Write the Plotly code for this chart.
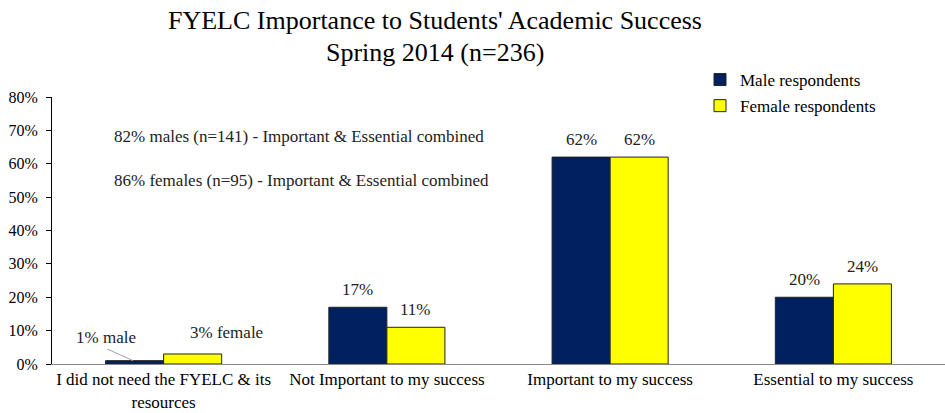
import plotly.graph_objects as go

# Survey results, Spring 2014
categories = [
    "I did not need the FYELC & its<br>resources",
    "Not Important to my success",
    "Important to my success",
    "Essential to my success",
]
male_pct = [1, 17, 62, 20]
female_pct = [3, 11, 62, 24]
y_ticks = [0, 10, 20, 30, 40, 50, 60, 70, 80]
title_lines = [
    "FYELC Importance to Students' Academic Success",
    "Spring 2014 (n=236)",
]
notes = [
    "82% males (n=141) - Important & Essential combined",
    "86% females (n=95) - Important & Essential combined",
]

SERIF = "Liberation Serif, Times New Roman, serif"
NAVY = "#002060"
YELLOW = "#FFFF00"
W, H = 945, 413
L, R, T, B = 52, 0, 97, 49
PW, PH = W - L - R, H - T - B

x = list(range(len(categories)))

fig = go.Figure()
fig.add_trace(go.Bar(
    x=x, y=male_pct, name="Male respondents", legendgroup="male",
    marker=dict(color=NAVY, line=dict(color="#222222", width=1)),
))
fig.add_trace(go.Bar(
    x=x, y=female_pct, name="Female respondents", legendgroup="female",
    marker=dict(color=YELLOW, line=dict(color="#222222", width=1)),
))


def px_to_paper(px, py):
    """Figure pixel position (from top-left) -> plot paper coordinates."""
    return (px - L) / PW, (H - B - py) / PH


annotations = []
bar_half = 0.13  # half of one bar's width in category units
for i in range(1, len(categories)):
    for dx, v in ((-bar_half, male_pct[i]), (bar_half, female_pct[i])):
        annotations.append(dict(
            x=i + dx, y=v, xref="x", yref="y", text=f"{v}%",
            showarrow=False, yanchor="bottom", yshift=6,
            font=dict(family=SERIF, size=17, color="#222222"),
        ))

# first category carries labelled values beside the bars
annotations.append(dict(
    x=-0.26, y=male_pct[0] + 7, xref="x", yref="y",
    text=f"{male_pct[0]}% male", showarrow=False,
    font=dict(family=SERIF, size=17, color="#222222"),
))
annotations.append(dict(
    x=0.28, y=female_pct[0] + 6.3, xref="x", yref="y",
    text=f"{female_pct[0]}% female", showarrow=False,
    font=dict(family=SERIF, size=17, color="#222222"),
))

# summary notes
for k, note in enumerate(notes):
    nx, ny = px_to_paper(112, 136 + 44 * k)
    annotations.append(dict(
        x=nx, y=ny, xref="paper", yref="paper",
        text=note, showarrow=False, xanchor="left", yanchor="middle",
        font=dict(family=SERIF, size=17, color="#222222"),
    ))

# two-line chart title
for k, line in enumerate(title_lines):
    tx, ty = px_to_paper(435, 21 + 31 * k)
    annotations.append(dict(
        x=tx, y=ty, xref="paper", yref="paper",
        text=line, showarrow=False, xanchor="center", yanchor="middle",
        font=dict(family=SERIF, size=26, color="#000000"),
    ))

fig.update_layout(
    width=W, height=H,
    margin=dict(l=L, r=R, t=T, b=B, autoexpand=False),
    paper_bgcolor="white", plot_bgcolor="white",
    barmode="group", bargap=0.48, bargroupgap=0,
    legend=dict(
        x=700 / W, y=1 - 62 / H, xref="container", yref="container",
        xanchor="left", yanchor="top", traceorder="grouped",
        font=dict(family=SERIF, size=17, color="#000000"),
        bgcolor="rgba(0,0,0,0)", tracegroupgap=1,
    ),
    annotations=annotations,
    shapes=[dict(
        type="line", xref="x", yref="y",
        x0=-0.253, y0=4.5, x1=-0.137, y1=male_pct[0],
        line=dict(color="#A0A0A0", width=1),
    )],
    xaxis=dict(
        tickvals=x, ticktext=categories, range=[-0.5, 3.5],
        tickangle=0, automargin=False,
        showline=True, linecolor="#888888", linewidth=1,
        ticks="", showgrid=False, zeroline=False,
        tickfont=dict(family=SERIF, size=17, color="#000000"),
    ),
    yaxis=dict(
        range=[0, 80], tickvals=y_ticks, automargin=False,
        ticktext=[f"{t}%" for t in y_ticks],
        showline=True, linecolor="#000000", linewidth=1,
        ticks="outside", ticklen=5, tickcolor="#000000",
        ticklabelstandoff=5,
        showgrid=False, zeroline=False,
        tickfont=dict(family=SERIF, size=16, color="#000000"),
    ),
)

fig.write_html("out.html")
